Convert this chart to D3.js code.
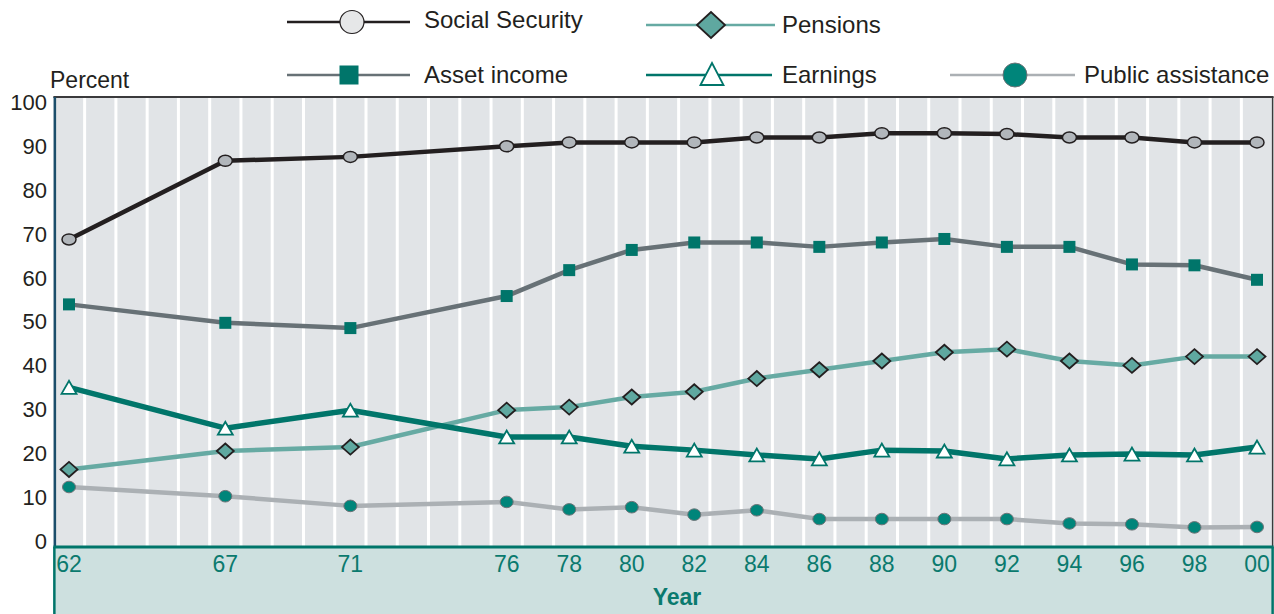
<!DOCTYPE html>
<html><head><meta charset="utf-8">
<script src="https://cdn.jsdelivr.net/npm/d3@7"></script>
<style>
html,body{margin:0;padding:0;background:#fff;}
svg{display:block;font-family:"Liberation Sans",Arial,Helvetica,sans-serif;}
</style></head>
<body>
<svg id="chart" width="1274" height="614"></svg>
<script>
const years = [1962,1967,1971,1976,1978,1980,1982,1984,1986,1988,1990,1992,1994,1996,1998,2000];
const yearLabels = ["62","67","71","76","78","80","82","84","86","88","90","92","94","96","98","00"];
const socialSecurity = [68.7,86.6,87.5,89.9,90.8,90.8,90.8,91.9,91.9,92.9,92.9,92.7,91.9,91.9,90.8,90.8];
const pensions = [16.3,20.5,21.4,29.8,30.5,32.8,34,37,39,41,43,43.7,41,40,42,42];
const assetIncome = [53.9,49.7,48.5,55.8,61.7,66.3,68,68,67,68,68.8,67,67,63,62.8,59.5];
const earnings = [35,25.7,29.8,23.7,23.7,21.6,20.7,19.6,18.7,20.7,20.5,18.7,19.6,19.8,19.6,21.4];
const publicAssistance = [12.3,10.2,8,8.9,7.2,7.7,6,7,5,5,5,5,4,3.8,3.1,3.2];
const yTicks = [0,10,20,30,40,50,60,70,80,90,100];

(function(){
const svg = d3.select("#chart");
const x = d3.scaleLinear().domain([1962,2000]).range([69,1257]);
const y = d3.scaleLinear().domain([0,100]).range([541,102]);
const pLeft = x(1961.5), pRight = x(2000.5);
const pTop = 97, pBottom = 547;

svg.append("rect").attr("x",pLeft).attr("y",pTop).attr("width",pRight-pLeft).attr("height",pBottom-pTop).attr("fill","#e1e4e7");
const stripeYears = d3.range(1962.5,2000.5,1);
svg.append("g").selectAll("line").data(stripeYears).join("line")
  .attr("x1",d=>x(d)).attr("x2",d=>x(d)).attr("y1",pTop).attr("y2",pBottom)
  .attr("stroke","#ffffff").attr("stroke-width",3);
svg.append("line").attr("x1",pLeft).attr("x2",pRight+1).attr("y1",pTop).attr("y2",pTop).attr("stroke","#3a3a3c").attr("stroke-width",2);
svg.append("line").attr("x1",pRight).attr("x2",pRight).attr("y1",pTop).attr("y2",pBottom).attr("stroke","#3a3a3c").attr("stroke-width",1.5);
svg.append("line").attr("x1",pLeft+1.5).attr("x2",pLeft+1.5).attr("y1",pTop).attr("y2",pBottom).attr("stroke","#1b4e6b").attr("stroke-width",2.5);

svg.append("rect").attr("x",pLeft).attr("y",pBottom).attr("width",pRight-pLeft).attr("height",614-pBottom+2).attr("fill","#cde0df");
svg.append("line").attr("x1",pLeft).attr("x2",pRight+1).attr("y1",pBottom).attr("y2",pBottom).attr("stroke","#00756a").attr("stroke-width",3);
svg.append("line").attr("x1",pLeft+1).attr("x2",pLeft+1).attr("y1",pBottom).attr("y2",614).attr("stroke","#00756a").attr("stroke-width",2.5);
svg.append("line").attr("x1",pRight).attr("x2",pRight).attr("y1",pBottom).attr("y2",614).attr("stroke","#00756a").attr("stroke-width",2.5);

svg.append("g").selectAll("text").data(yTicks).join("text")
  .attr("x",47).attr("y",d=>y(d)).attr("dy","0.36em").attr("text-anchor","end")
  .attr("font-size",22).attr("fill","#231f20").text(d=>d);
svg.append("text").attr("x",50).attr("y",88).attr("font-size",23).attr("fill","#231f20").text("Percent");

svg.append("g").selectAll("text").data(years).join("text")
  .attr("x",d=>x(d)).attr("y",572).attr("text-anchor","middle")
  .attr("font-size",23).attr("fill","#0a7a6e").text((d,i)=>yearLabels[i]);
svg.append("text").attr("x",677).attr("y",605).attr("text-anchor","middle")
  .attr("font-size",23).attr("font-weight","bold").attr("fill","#0a7a6e").text("Year");

function circleM(g,cx,cy,s,fill,stroke,sw){ g.append("ellipse").attr("cx",cx).attr("cy",cy).attr("rx",s.rx).attr("ry",s.ry).attr("fill",fill).attr("stroke",stroke).attr("stroke-width",sw); }
function squareM(g,cx,cy,s,fill){ g.append("rect").attr("x",cx-s/2).attr("y",cy-s/2).attr("width",s).attr("height",s).attr("fill",fill); }
function diamondM(g,cx,cy,w,h,fill,stroke){ g.append("path").attr("d",`M${cx-w/2},${cy}L${cx},${cy-h/2}L${cx+w/2},${cy}L${cx},${cy+h/2}Z`).attr("fill",fill).attr("stroke",stroke).attr("stroke-width",1.8); }
function triM(g,cx,cy,w,h,fill,stroke){ g.append("path").attr("d",`M${cx-w/2},${cy+h/2}L${cx},${cy-h/2}L${cx+w/2},${cy+h/2}Z`).attr("fill",fill).attr("stroke",stroke).attr("stroke-width",1.8); }

const line = d3.line().x(d=>x(d[0])).y(d=>y(d[1]));
const series = [
  {name:"Public assistance", data:publicAssistance, color:"#abb0b4", width:4.5, marker:(g,cx,cy)=>circleM(g,cx,cy,{rx:6.5,ry:5.8},"#00857a","#6d7478",1)},
  {name:"Pensions", data:pensions, color:"#66aaa3", width:4.5, marker:(g,cx,cy)=>diamondM(g,cx,cy,17,15,"#5fa8a0","#231f20")},
  {name:"Earnings", data:earnings, color:"#00756a", width:5.5, marker:(g,cx,cy)=>triM(g,cx,cy,15,13,"#ffffff","#00756a")},
  {name:"Asset income", data:assetIncome, color:"#677176", width:4.5, marker:(g,cx,cy)=>squareM(g,cx,cy,12,"#00756a")},
  {name:"Social Security", data:socialSecurity, color:"#231f20", width:4.5, marker:(g,cx,cy)=>circleM(g,cx,cy,{rx:7,ry:5.5},"#b1b6bb","#231f20",1.5)}
];
series.forEach(s=>{
  const pts = years.map((yr,i)=>[yr,s.data[i]]);
  svg.append("path").attr("d",line(pts)).attr("fill","none").attr("stroke",s.color).attr("stroke-width",s.width).attr("stroke-linejoin","round");
});
series.forEach(s=>{
  const g = svg.append("g");
  years.forEach((yr,i)=>s.marker(g,x(yr),y(s.data[i])));
});

const lg = svg.append("g");
function legLine(x1,x2,yy,color,w){ lg.append("line").attr("x1",x1).attr("x2",x2).attr("y1",yy).attr("y2",yy).attr("stroke",color).attr("stroke-width",w); }
function legText(tx,yy,t){ lg.append("text").attr("x",tx).attr("y",yy).attr("dy","0.35em").attr("font-size",24).attr("fill","#231f20").text(t); }
legLine(287,410,22,"#231f20",2.5); circleM(lg,352,22,{rx:12,ry:11.5},"#e6e7e8","#231f20",1.2); legText(424,20,"Social Security");
legLine(646,775,25,"#66aaa3",2.5); diamondM(lg,711,25,28,26,"#5fa8a0","#231f20"); legText(782,25,"Pensions");
legLine(287,410,75,"#677176",2.5); squareM(lg,349,75,19,"#00756a"); legText(424,75,"Asset income");
legLine(646,772,75,"#00756a",2.5); triM(lg,712,74,23,22,"#ffffff","#00756a"); legText(782,75,"Earnings");
legLine(950,1075,75,"#abb0b4",2.5); circleM(lg,1015,75,{rx:12,ry:12},"#00857a","#6d7478",1); legText(1084,75,"Public assistance");
})();
</script>
</body></html>
